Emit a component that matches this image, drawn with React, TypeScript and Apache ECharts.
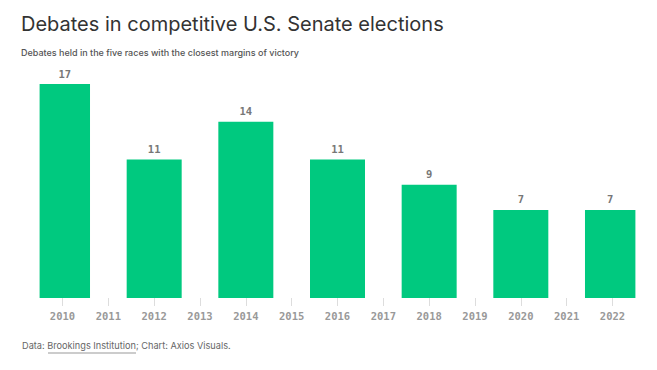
import React, { useEffect, useRef } from "react";
import * as echarts from "echarts";

const years = ["2010","2011","2012","2013","2014","2015","2016","2017","2018","2019","2020","2021","2022"];
const debates: (number | null)[] = [17, null, 11, null, 14, null, 11, null, 9, null, 7, null, 7];

export default function App() {
  const ref = useRef<HTMLDivElement>(null);
  useEffect(() => {
    const chart = echarts.init(ref.current!, null, { renderer: "svg" });
    chart.setOption({
      animation: false,
      grid: { left: 39.6, right: 21.6, top: 84, bottom: 72 },
      title: [
        {
          text: "Debates in competitive U.S. Senate elections",
          left: 16, top: 9,
          textStyle: { fontFamily: "Inter", fontSize: 20, fontWeight: 400, color: "#333" },
        },
        {
          text: "Debates held in the five races with the closest margins of victory",
          left: 16, top: 43,
          textStyle: { fontFamily: "Inter", fontSize: 9, fontWeight: 500, color: "#555" },
        },
      ],
      xAxis: {
        type: "category",
        data: years,
        axisLine: { show: false },
        axisTick: { show: true, alignWithLabel: true, length: 8, lineStyle: { color: "#dddddd" } },
        axisLabel: { fontFamily: "DejaVu Sans Mono", fontSize: 10.5, fontWeight: "bold", color: "#999", margin: 12 },
      },
      yAxis: { type: "value", min: 0, max: 17, show: false, splitLine: { show: false } },
      series: [
        {
          type: "bar",
          data: debates,
          barWidth: 55,
          itemStyle: { color: "#00c97f" },
          label: {
            show: true, position: "top", distance: 5,
            fontFamily: "DejaVu Sans Mono", fontSize: 10.5, fontWeight: "bold", color: "#777",
          },
        },
      ],
      graphic: [
        {
          type: "text", left: 22, top: 341,
          style: { text: "Data: Brookings Institution; Chart: Axios Visuals.", fontFamily: "Inter", fontSize: 9.2, fill: "#666" },
        },
        {
          type: "line", shape: { x1: 48, y1: 353, x2: 136, y2: 353 },
          style: { stroke: "#999", lineWidth: 1 },
        },
      ],
    });
    return () => chart.dispose();
  }, []);
  return <div ref={ref} style={{ width: 657, height: 370, position: "absolute", left: 0, top: 0 }} />;
}
